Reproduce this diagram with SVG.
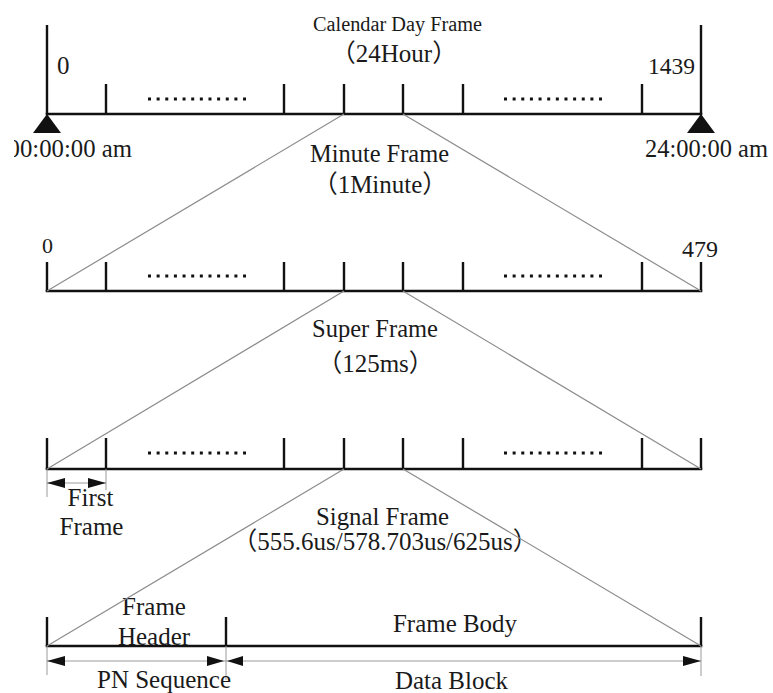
<svg xmlns="http://www.w3.org/2000/svg" width="773" height="693" viewBox="0 0 773 693">
  <style>
    text { font-family: "Liberation Serif", "Times New Roman", "Noto Sans CJK SC", serif; fill: #1a1a1a; }
    .axis { stroke: #111; stroke-width: 2.6; fill: none; stroke-linecap: square; }
    .tick { stroke: #111; stroke-width: 2.4; fill: none; }
    .dots { stroke: #111; stroke-width: 3; stroke-dasharray: 3 5.64; fill: none; }
    .fan { stroke: #8c8c8c; stroke-width: 1.2; fill: none; }
    .dim { stroke: #9a9a9a; stroke-width: 1; fill: none; }
    .head { fill: #111; }
    .lbl { font-size: 25px; }
  </style>
  <defs>
    <clipPath id="leftEdge">
      <rect x="14" y="0" width="759" height="693"/>
    </clipPath>
  </defs>

  <rect width="773" height="693" fill="#ffffff"/>

  <!-- Level 1: calendar day frame -->
  <g id="calendar-day">
    <path class="axis" d="M47 114 H701"/>
    <path class="tick" d="M47 25 V114 M701 25 V114"/>
    <path class="tick" d="M106 84 V114 M284 84 V114 M344 84 V114 M403 84 V114 M463 84 V114 M642 84 V114"/>
    <path class="dots" d="M148 99 H246 M504 99 H602"/>
    <polygon class="head" points="47,114 33,133 61,133"/>
    <polygon class="head" points="701,114 687,133 715,133"/>
    <text x="397.5" y="31" font-size="20" text-anchor="middle" textLength="169" lengthAdjust="spacingAndGlyphs">Calendar Day Frame</text>
    <text x="394" y="62" class="lbl" text-anchor="middle">（24Hour）</text>
    <text x="57" y="74" class="lbl">0</text>
    <text x="648" y="74" font-size="24" textLength="47" lengthAdjust="spacingAndGlyphs">1439</text>
    <text x="7.5" y="157" class="lbl" clip-path="url(#leftEdge)" textLength="124.5" lengthAdjust="spacingAndGlyphs">00:00:00 am</text>
    <text x="645" y="157" class="lbl" textLength="123" lengthAdjust="spacingAndGlyphs">24:00:00 am</text>
  </g>

  <!-- Level 2: minute frame -->
  <g id="minute-frame">
    <path class="axis" d="M47 291 H701"/>
    <path class="tick" d="M47 262 V291 M701 262 V291"/>
    <path class="tick" d="M106 262 V291 M284 262 V291 M344 262 V291 M403 262 V291 M463 262 V291 M642 262 V291"/>
    <path class="dots" d="M148 276 H246 M504 276 H602"/>
    <text x="379.5" y="162" class="lbl" text-anchor="middle" textLength="139" lengthAdjust="spacingAndGlyphs">Minute Frame</text>
    <text x="380" y="193" class="lbl" text-anchor="middle">（1Minute）</text>
    <text x="42" y="253" font-size="22">0</text>
    <text x="682" y="257" font-size="24" textLength="36" lengthAdjust="spacingAndGlyphs">479</text>
  </g>

  <!-- Level 3: super frame -->
  <g id="super-frame">
    <path class="axis" d="M47 469 H701"/>
    <path class="tick" d="M47 438 V469 M701 438 V469"/>
    <path class="tick" d="M106 438 V469 M284 438 V469 M344 438 V469 M403 438 V469 M463 438 V469 M642 438 V469"/>
    <path class="dots" d="M148 453 H246 M504 453 H602"/>
    <text x="375" y="337" class="lbl" text-anchor="middle" textLength="126" lengthAdjust="spacingAndGlyphs">Super Frame</text>
    <text x="375.5" y="372" class="lbl" text-anchor="middle">（125ms）</text>
  </g>

  <!-- First frame span -->
  <g id="first-frame">
    <path class="dim" d="M47 469 V497 M106 469 V490 M47 483 H106"/>
    <polygon class="head" points="47,483 65,478 65,488"/>
    <polygon class="head" points="106,483 88,478 88,488"/>
    <text x="90.5" y="506" class="lbl" text-anchor="middle">First</text>
    <text x="91.5" y="535" class="lbl" text-anchor="middle">Frame</text>
  </g>

  <!-- Level 4: signal frame -->
  <g id="signal-frame">
    <path class="axis" d="M47 646 H701"/>
    <path class="tick" d="M47 617 V646 M226 617 V646 M701 617 V646"/>
    <text x="382.5" y="525" class="lbl" text-anchor="middle" textLength="133" lengthAdjust="spacingAndGlyphs">Signal Frame</text>
    <text x="385" y="550" class="lbl" text-anchor="middle">（555.6us/578.703us/625us）</text>
    <text x="154" y="615" class="lbl" text-anchor="middle">Frame</text>
    <text x="154" y="645" class="lbl" text-anchor="middle">Header</text>
    <text x="455" y="632" class="lbl" text-anchor="middle" textLength="124" lengthAdjust="spacingAndGlyphs">Frame Body</text>
  </g>

  <!-- Header / body spans -->
  <g id="spans">
    <path class="dim" d="M47 646 V675 M226 646 V680 M701 646 V676 M47 661 H701"/>
    <polygon class="head" points="47,661 65,656 65,666"/>
    <polygon class="head" points="224,661 207,656 207,666"/>
    <polygon class="head" points="227,661 243,656 243,666"/>
    <polygon class="head" points="701,661 683,656 683,666"/>
    <text x="164" y="688" class="lbl" text-anchor="middle" textLength="134" lengthAdjust="spacingAndGlyphs">PN Sequence</text>
    <text x="451.5" y="689" class="lbl" text-anchor="middle" textLength="113" lengthAdjust="spacingAndGlyphs">Data Block</text>
  </g>

  <!-- Expansion lines between levels -->
  <g id="connectors">
    <path class="fan" d="M344 114 L47 291 M403 114 L701 291"/>
    <path class="fan" d="M344 291 L47 469 M403 291 L701 469"/>
    <path class="fan" d="M344 469 L47 646 M403 469 L701 646"/>
  </g>
</svg>
